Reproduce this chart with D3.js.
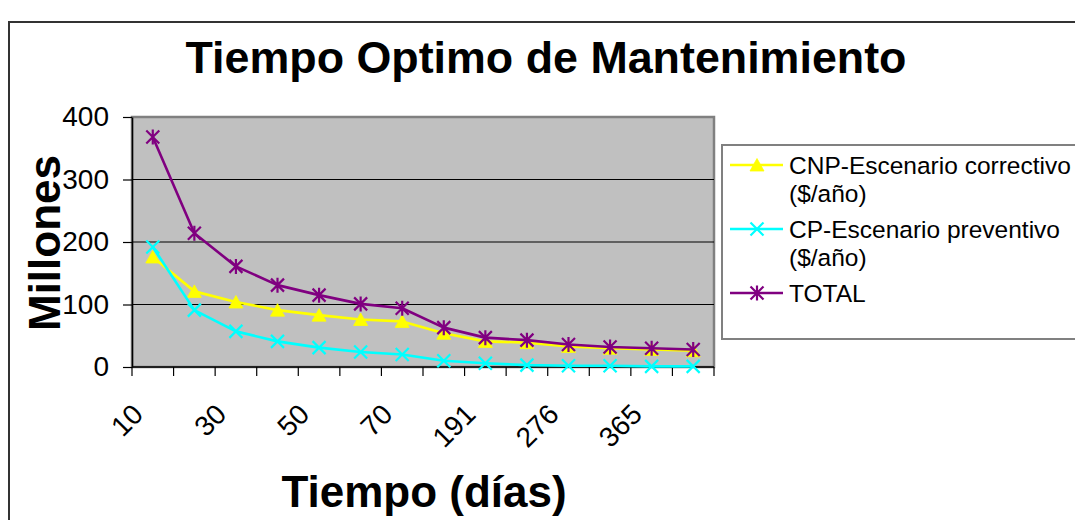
<!DOCTYPE html>
<html>
<head>
<meta charset="utf-8">
<script src="https://cdn.jsdelivr.net/npm/d3@7"></script>
<style>
  html, body { margin: 0; padding: 0; background: #ffffff; }
  svg { display: block; font-family: "Liberation Sans", Arial, sans-serif; }
</style>
</head>
<body>
<svg id="chart" width="1075" height="520"></svg>
<script>
// Maintenance interval (days) on the category axis
const categories = ["10", "20", "30", "40", "50", "60", "70", "90", "191", "230", "276", "320", "365", "400"];

// Annual costs, millions
const cnpValues   = [176, 121, 104, 91, 83, 76, 73, 54, 41, 39, 33, 30, 28, 26];
const cpValues    = [192, 91, 57, 41, 31, 24, 20, 10, 6, 3, 2, 2, 1, 1];
const totalValues = [368, 214, 161, 131, 115, 101, 94, 63, 47, 43, 36, 32, 30, 28];

const yTicks = [0, 100, 200, 300, 400];

const series = [
  { name: "CNP-Escenario correctivo", sub: "($/año)", values: cnpValues, color: "#ffff00", marker: "triangle" },
  { name: "CP-Escenario preventivo", sub: "($/año)", values: cpValues, color: "#00ffff", marker: "cross" },
  { name: "TOTAL", sub: null, values: totalValues, color: "#800080", marker: "star" }
];

const svg = d3.select("#chart");

const plot = { left: 132, right: 714, top: 117, bottom: 367 };

const x = d3.scaleBand().domain(categories).range([plot.left, plot.right]).padding(0);
const y = d3.scaleLinear().domain([0, 400]).range([plot.bottom, plot.top]);
const cx = c => x(c) + x.bandwidth() / 2;

// Outer chart frame
svg.append("rect")
  .attr("x", 9).attr("y", 22).attr("width", 1100).attr("height", 520)
  .attr("fill", "#ffffff").attr("stroke", "#333333").attr("stroke-width", 2);

// Title
svg.append("text")
  .attr("x", 546).attr("y", 73)
  .attr("text-anchor", "middle")
  .attr("font-size", 44.8).attr("font-weight", "bold")
  .text("Tiempo Optimo de Mantenimiento");

// Plot area
svg.append("rect")
  .attr("x", plot.left).attr("y", plot.top)
  .attr("width", plot.right - plot.left).attr("height", plot.bottom - plot.top)
  .attr("fill", "#c0c0c0").attr("stroke", "#808080").attr("stroke-width", 2.5);

// Gridlines
svg.append("g")
  .selectAll("line")
  .data(yTicks.filter(t => t > 0 && t < 400))
  .join("line")
  .attr("x1", plot.left).attr("x2", plot.right)
  .attr("y1", d => y(d)).attr("y2", d => y(d))
  .attr("stroke", "#000000").attr("stroke-width", 1.2);

// Y axis
const yAxis = svg.append("g")
  .attr("transform", `translate(${plot.left},0)`)
  .call(d3.axisLeft(y).tickValues(yTicks).tickSize(9).tickPadding(14).tickSizeOuter(0));
yAxis.select(".domain").attr("stroke", "#000").attr("stroke-width", 1.5);
yAxis.selectAll(".tick line").attr("stroke", "#000").attr("stroke-width", 1.2);
yAxis.selectAll(".tick text")
  .attr("font-size", 28).attr("fill", "#000")
  .attr("font-family", "Liberation Sans, Arial, sans-serif");

// X axis: ticks between categories, labels on every other category
const boundaries = categories.map(c => x(c)).concat([plot.right]);
const xAxis = svg.append("g");
xAxis.append("line")
  .attr("x1", plot.left).attr("x2", plot.right)
  .attr("y1", plot.bottom).attr("y2", plot.bottom)
  .attr("stroke", "#000").attr("stroke-width", 1.5);
xAxis.selectAll("line.tk")
  .data(boundaries)
  .join("line").attr("class", "tk")
  .attr("x1", d => d).attr("x2", d => d)
  .attr("y1", plot.bottom).attr("y2", plot.bottom + 9)
  .attr("stroke", "#000").attr("stroke-width", 1.2);
xAxis.selectAll("text")
  .data(categories.filter((c, i) => i % 2 === 0))
  .join("text")
  .attr("transform", d => `translate(${cx(d) - 8},${plot.bottom + 49}) rotate(-45)`)
  .attr("text-anchor", "end")
  .attr("font-size", 28)
  .text(d => d);

// Axis titles
svg.append("text")
  .attr("x", 424).attr("y", 507)
  .attr("text-anchor", "middle")
  .attr("font-size", 44).attr("font-weight", "bold")
  .text("Tiempo (días)");

svg.append("text")
  .attr("transform", "translate(60,243) rotate(-90)")
  .attr("text-anchor", "middle")
  .attr("font-size", 44).attr("font-weight", "bold")
  .text("Millones");

// Marker shapes
function drawMarker(g, type, color) {
  if (type === "triangle") {
    g.append("path").attr("d", "M0,-6.5L7,6L-7,6Z").attr("fill", color).attr("stroke", color).attr("stroke-width", 0.8);
  } else if (type === "cross") {
    g.append("path").attr("d", "M-6.5,-6.5L6.5,6.5M-6.5,6.5L6.5,-6.5")
      .attr("stroke", color).attr("stroke-width", 2.2).attr("fill", "none");
  } else {
    g.append("path").attr("d", "M-6.5,-6.5L6.5,6.5M-6.5,6.5L6.5,-6.5M0,-7.5L0,7.5")
      .attr("stroke", color).attr("stroke-width", 2.2).attr("fill", "none");
  }
}

// Series lines and markers
const line = d3.line().x((d, i) => cx(categories[i])).y(d => y(d));
series.forEach(s => {
  const g = svg.append("g");
  g.append("path")
    .attr("d", line(s.values))
    .attr("fill", "none").attr("stroke", s.color).attr("stroke-width", 2.6)
    .attr("stroke-linejoin", "round");
  s.values.forEach((v, i) => {
    const m = g.append("g").attr("transform", `translate(${cx(categories[i])},${y(v)})`);
    drawMarker(m, s.marker, s.color);
  });
});

// Legend
const legend = svg.append("g");
legend.append("rect")
  .attr("x", 722).attr("y", 145).attr("width", 380).attr("height", 194)
  .attr("fill", "#ffffff").attr("stroke", "#808080").attr("stroke-width", 2);

const rowY = [165, 229, 293];
series.forEach((s, i) => {
  const ly = rowY[i];
  legend.append("line")
    .attr("x1", 730).attr("x2", 783).attr("y1", ly).attr("y2", ly)
    .attr("stroke", s.color).attr("stroke-width", 2.6);
  const m = legend.append("g").attr("transform", `translate(757,${ly})`);
  drawMarker(m, s.marker, s.color);
  legend.append("text")
    .attr("x", 789).attr("y", ly + 8.5)
    .attr("font-size", 24.5)
    .text(s.name);
  if (s.sub) {
    legend.append("text")
      .attr("x", 789).attr("y", ly + 37)
      .attr("font-size", 24.5)
      .text(s.sub);
  }
});
</script>
</body>
</html>
